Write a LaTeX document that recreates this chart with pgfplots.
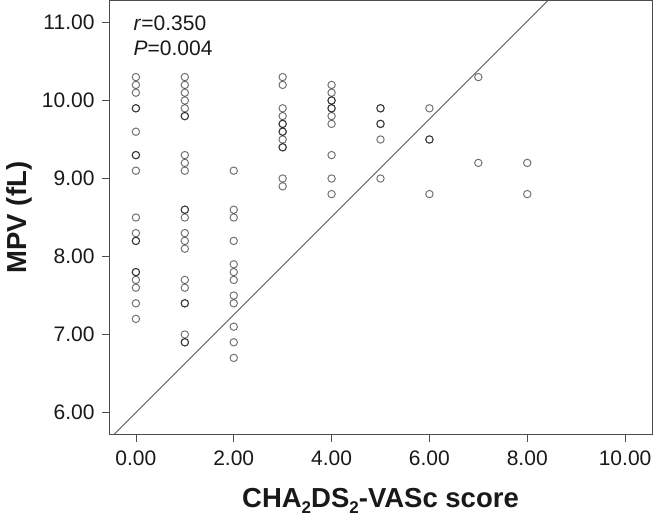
\documentclass[border=0pt]{standalone}
\usepackage{pgfplots}
\pgfplotsset{compat=1.18}
\usepackage{fontspec}
\setmainfont{Liberation Sans}
\newcommand{\sub}[1]{\raisebox{-6pt}{\fontsize{17}{17}\selectfont #1}}
\begin{document}
\begin{tikzpicture}
\begin{axis}[
  name=ax,
  scale only axis,
  width=543pt, height=434pt,
  xmin=-0.55, xmax=10.55,
  ymin=5.718, ymax=11.282,
  xtick={0,2,4,6,8,10},
  ytick={6,7,8,9,10,11},
  /pgf/number format/fixed,
  /pgf/number format/fixed zerofill,
  /pgf/number format/precision=2,
  /pgf/number format/assume math mode=true,
  tick align=outside,
  xtick pos=left, ytick pos=left,
  major tick length=7pt,
  tick style={black!70, line width=0.8pt},
  axis line style={black!70, line width=0.9pt},
  ticklabel style={font=\fontsize{21}{24}\selectfont, text=black!90},
  xticklabel style={yshift=-6pt},
  yticklabel style={xshift=-4pt},
  xlabel={\bfseries CHA\sub{2}DS\sub{2}-VASc score},
  ylabel={\bfseries MPV (fL)},
  label style={font=\fontsize{27.5}{30}\selectfont, text=black!90},
  xlabel style={anchor=base, at={(rel axis cs:0.5,0)}, yshift=-73pt},
  ylabel style={anchor=base, at={(axis description cs:-0.152,0.5)}},
  clip=true,
]
\addplot[only marks, mark=o, mark size=3.7pt, mark options={draw=black, draw opacity=0.55, line width=1pt}]
coordinates {
(0,10.3) (0,10.2) (0,10.1) (0,9.9) (0,9.9) (0,9.6) (0,9.3) (0,9.3) (0,9.1) (0,8.5) (0,8.3) (0,8.2) (0,8.2) (0,7.8) (0,7.8) (0,7.7) (0,7.6) (0,7.4) (0,7.2)
(1,10.3) (1,10.2) (1,10.1) (1,10.0) (1,9.9) (1,9.8) (1,9.8) (1,9.3) (1,9.2) (1,9.1) (1,8.6) (1,8.6) (1,8.5) (1,8.3) (1,8.2) (1,8.1) (1,7.7) (1,7.6) (1,7.4) (1,7.4) (1,7.0) (1,6.9) (1,6.9)
(2,9.1) (2,8.6) (2,8.5) (2,8.2) (2,7.9) (2,7.8) (2,7.7) (2,7.5) (2,7.4) (2,7.1) (2,6.9) (2,6.7)
(3,10.3) (3,10.2) (3,9.9) (3,9.8) (3,9.7) (3,9.7) (3,9.6) (3,9.6) (3,9.5) (3,9.4) (3,9.4) (3,9.0) (3,8.9)
(4,10.2) (4,10.1) (4,10.0) (4,10.0) (4,9.9) (4,9.9) (4,9.8) (4,9.7) (4,9.3) (4,9.0) (4,8.8)
(5,9.9) (5,9.9) (5,9.7) (5,9.7) (5,9.5) (5,9.0)
(6,9.9) (6,9.5) (6,9.5) (6,8.8)
(7,10.3) (7,9.2)
(8,9.2) (8,8.8)
};
\addplot[no marks, black!65, line width=0.9pt] coordinates {(-0.55,5.655) (10.55,12.615)};
\node[anchor=base west, font=\fontsize{21}{24}\selectfont, text=black!90] at (rel axis cs:0.039,0.931) {\textit{r}=0.350};
\node[anchor=base west, font=\fontsize{21}{24}\selectfont, text=black!90] at (rel axis cs:0.039,0.873) {\textit{P}=0.004};
\end{axis}
\pgfresetboundingbox
\path[use as bounding box] ([xshift=-109pt,yshift=-83pt]ax.south west) rectangle ([xshift=4pt,yshift=0.5pt]ax.north east);
\end{tikzpicture}
\end{document}
